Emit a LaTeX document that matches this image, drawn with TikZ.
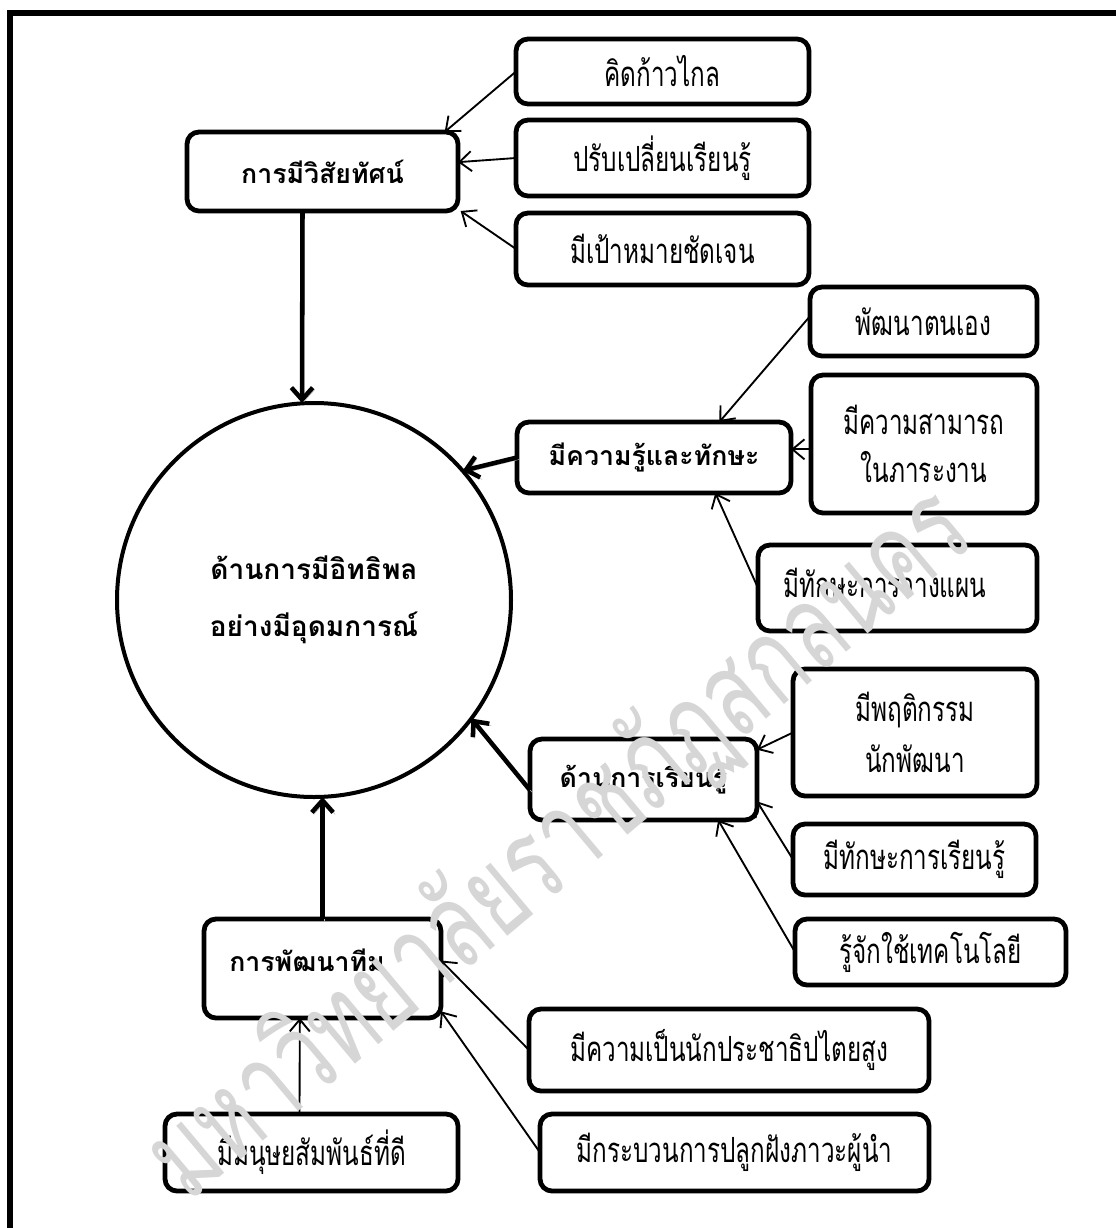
\documentclass[tikz,border=0pt]{standalone}
\usepackage{fontspec}
\usepackage{pdfrender}
\newfontfamily\thai[Script=Thai]{Loma}
\newfontfamily\thainar[Script=Thai, FakeStretch=0.7]{Loma}
\usetikzlibrary{arrows.meta}
\tikzset{
  box/.style={draw, line width=3.6pt, rounded corners=9pt, fill=white, inner sep=0pt, outer sep=0pt, align=center,
              font=\thainar\fontsize{26}{36}\selectfont},
  bbox/.style={box, font=\thai\bfseries\fontsize{20}{30}\selectfont},
  wh/.style 2 args={minimum width=#1, minimum height=#2},
  lbl/.style={inner sep=0pt, font=\thainar\fontsize{26}{36}\selectfont},
  blbl/.style={inner sep=0pt, font=\thai\bfseries\fontsize{20}{30}\selectfont},
  thinarr/.style={draw, line width=1.4pt, -{Straight Barb[length=9pt,width=15pt,line width=1.4pt]}},
  thickarr/.style={draw, line width=3.4pt, -{Straight Barb[length=9pt,width=16pt,line width=3.4pt]},
                   preaction={draw=gray!55, transform canvas={shift={(1.5pt,-1.5pt)}}}},
}
\begin{document}
\begin{tikzpicture}[x=0.75pt,y=-0.75pt]
\useasboundingbox (0,0) rectangle (1116,1228);
\fill[white] (0,0) rectangle (1116,1228);
% outer frame (its right and bottom sides lie beyond the picture)
\draw[line width=4.5pt] (10,1228) -- (10,13) -- (1116,13);

% central circle
\node[circle, draw, line width=3pt, inner sep=0pt, outer sep=0pt, minimum size=295.5pt, align=center,
      font=\thai\bfseries\fontsize{21}{43}\selectfont] (circ) at (314,600)
      {ด้านการมีอิทธิพล\\อย่างมีอุดมการณ์};

% vision group
\node[bbox, wh={203.25pt}{59.25pt}] (vision) at (322.5,171.5) {การมีวิสัยทัศน์};
\node[box, wh={219.75pt}{48.75pt}] (k1) at (662.5,71.5) {คิดก้าวไกล};
\node[box, wh={219.75pt}{57pt}] (k2) at (662.5,158) {ปรับเปลี่ยนเรียนรู้};
\node[box, wh={219.75pt}{54pt}] (k3) at (662.5,249) {มีเป้าหมายชัดเจน};

% knowledge group
\node[bbox, wh={205.5pt}{53.25pt}] (kn) at (654,457.5) {มีความรู้และทักษะ};
\node[box, wh={170.25pt}{51.75pt}] (s1) at (923.5,321.5) {พัฒนาตนเอง};
\node[box, wh={169.5pt}{103.5pt}] (s2) at (924,444) {มีความสามารถ\\ในภาระงาน};
\node[box, wh={209.25pt}{64.5pt}] (s3) at (897.5,588) {};
\node[lbl] (s3t) at (885,583) {มีทักษะการวางแผน};

% learning group
\node[bbox, wh={170.25pt}{60.75pt}] (ln) at (643.5,779.5) {ด้านการเรียนรู้};
\node[box, wh={183pt}{95.25pt}] (t1) at (915,732.5) {มีพฤติกรรม\\[2pt]นักพัฒนา};
\node[box, wh={182.25pt}{53.25pt}] (t2) at (914.5,859.5) {มีทักษะการเรียนรู้};
\node[box, wh={203.25pt}{49.5pt}] (t3) at (930.5,952) {รู้จักใช้เทคโนโลยี};

% team group
\node[box, wh={177.75pt}{74.25pt}] (tm) at (322.5,968.5) {};
\node[blbl] (tmt) at (307,960) {การพัฒนาทีม};
\node[box, wh={300pt}{61.5pt}] (d1) at (729,1050) {มีความเป็นนักประชาธิปไตยสูง};
\node[box, wh={291.75pt}{57.75pt}] (d2) at (734.5,1152.5) {มีกระบวนการปลูกฝังภาวะผู้นำ};
\node[box, wh={219.75pt}{57.75pt}] (h) at (311.5,1152.5) {มีมนุษยสัมพันธ์ที่ดี};

% thick arrows to the circle
\draw[thickarr] ([xshift=-15pt]vision.south) -- ([xshift=-9pt]circ.north);
\draw[thickarr] (kn.west) -- (circ.41);
\draw[thickarr] ([yshift=-8pt]ln.west) -- (circ.-37);
\draw[thickarr] (tm.north) -- (tm.north |- circ.south);

% thin arrows
\draw[thinarr] (k1.west) -- ([xshift=-10pt]vision.north east);
\draw[thinarr] (k2.west) -- ([yshift=7pt]vision.east);
\draw[thinarr] (k3.west) -- ([xshift=2pt]vision.south east);

\draw[thinarr] ([yshift=4pt]s1.west) -- ([xshift=49pt]kn.north);
\draw[thinarr] ([yshift=-4pt]s2.west) -- ([yshift=-4pt]s2.west -| kn.east);
\draw[thinarr] (s3.west) -- ([xshift=46pt]kn.south);

\draw[thinarr] (t1.west) -- ([yshift=-8pt]ln.north east);
\draw[thinarr] (t2.west) -- ([yshift=14pt]ln.south east);
\draw[thinarr] (t3.west) -- ([xshift=56pt]ln.south);

\draw[thinarr] (d1.west) -- ([yshift=6pt]tm.east);
\draw[thinarr] (d2.west) -- ([yshift=5pt]tm.south east);
\draw[thinarr] ([xshift=-9pt]h.north) -- ([xshift=-17pt]tm.south);

% watermark
\node[rotate=40, text=gray!32, inner sep=0pt, font=\thainar\fontsize{90}{90}\selectfont] (wm) at (560,845)
  {\textpdfrender{TextRenderingMode=Stroke,LineWidth=2.4pt}{มหาวิทยาลัยราชภัฏสกลนคร}};
\end{tikzpicture}
\end{document}
